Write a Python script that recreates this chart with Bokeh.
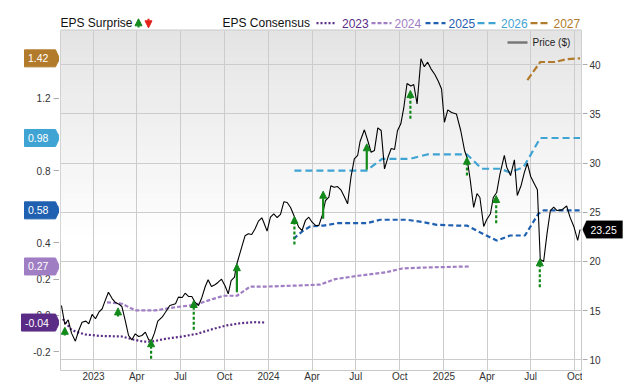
import numpy as np
import pandas as pd
from bokeh.plotting import figure
from bokeh.layouts import column, row
from bokeh.models import (Range1d, FixedTicker, ColumnDataSource, Arrow,
                          NormalHead, Label, PolyAnnotation, BoxAnnotation, NumeralTickFormatter)
from bokeh.embed import file_html
from bokeh.resources import INLINE

# ---------------- data ----------------
price_dates = [
    "2022-10-26", "2022-11-02", "2022-11-09", "2022-11-16", "2022-11-24", "2022-12-01", "2022-12-08",
    "2022-12-16", "2022-12-22", "2022-12-29", "2023-01-05", "2023-01-12", "2023-01-19", "2023-01-24",
    "2023-02-01", "2023-02-09", "2023-02-15", "2023-02-24", "2023-03-01", "2023-03-08", "2023-03-15",
    "2023-03-22", "2023-03-29", "2023-04-05", "2023-04-12", "2023-04-19", "2023-04-26", "2023-05-02",
    "2023-05-08", "2023-05-15", "2023-05-24", "2023-05-31", "2023-06-09", "2023-06-21", "2023-06-27",
    "2023-07-05", "2023-07-11", "2023-07-18", "2023-07-25", "2023-08-01", "2023-08-08", "2023-08-15",
    "2023-08-22", "2023-08-28", "2023-09-04", "2023-09-12", "2023-09-18", "2023-09-25", "2023-10-02",
    "2023-10-09", "2023-10-15", "2023-10-22", "2023-10-26", "2023-11-02", "2023-11-07", "2023-11-13",
    "2023-11-20", "2023-11-27", "2023-12-04", "2023-12-11", "2023-12-18", "2023-12-22", "2023-12-29",
    "2024-01-05", "2024-01-12", "2024-01-19", "2024-01-26", "2024-02-02", "2024-02-09", "2024-02-16",
    "2024-02-23", "2024-03-04", "2024-03-11", "2024-03-18", "2024-03-25", "2024-04-01", "2024-04-08",
    "2024-04-15", "2024-04-22", "2024-04-29", "2024-05-06", "2024-05-10", "2024-05-17", "2024-05-24",
    "2024-05-31", "2024-06-07", "2024-06-14", "2024-06-21", "2024-06-28", "2024-07-05", "2024-07-10",
    "2024-07-19", "2024-07-26", "2024-08-02", "2024-08-09", "2024-08-16", "2024-08-23", "2024-08-30",
    "2024-09-06", "2024-09-13", "2024-09-20", "2024-09-26", "2024-10-03", "2024-10-09", "2024-10-16",
    "2024-10-24", "2024-10-30", "2024-11-06", "2024-11-14", "2024-11-21", "2024-11-28", "2024-12-05",
    "2024-12-13", "2024-12-20", "2024-12-27", "2025-01-02", "2025-01-09", "2025-01-17", "2025-01-27",
    "2025-02-05", "2025-02-13", "2025-02-18", "2025-02-25", "2025-03-04", "2025-03-11", "2025-03-17",
    "2025-03-25", "2025-03-31", "2025-04-08", "2025-04-14", "2025-04-21", "2025-04-28", "2025-05-07",
    "2025-05-12", "2025-05-20", "2025-05-28", "2025-06-03", "2025-06-11", "2025-06-18", "2025-06-24",
    "2025-07-01", "2025-07-08", "2025-07-15", "2025-07-21", "2025-07-28", "2025-08-04", "2025-08-11",
    "2025-08-18", "2025-08-25", "2025-09-04", "2025-09-14", "2025-09-21", "2025-09-29", "2025-10-07",
    "2025-10-12",
]
price_values = [
    15.52, 13.59, 14.07, 12.71, 11.89, 12.98, 13.82,
    13.93, 13.66, 14.61, 14.17, 14.84, 15.19, 15.86,
    16.87, 16.20, 15.86, 15.62, 15.42, 14.00, 12.47,
    12.03, 12.64, 12.37, 12.47, 12.81, 12.03, 11.96,
    12.71, 13.93, 14.33, 14.84, 15.52, 15.70, 16.37,
    16.34, 16.77, 16.44, 16.44, 15.83, 15.52, 16.34,
    17.45, 18.14, 17.45, 17.66, 17.89, 18.20, 17.56,
    16.71, 18.06, 18.40, 19.59, 20.78, 21.62, 22.61,
    22.81, 22.74, 23.32, 24.10, 24.44, 23.99, 23.08,
    24.50, 24.85, 24.47, 24.78, 26.07, 26.00, 25.49,
    24.68, 23.49, 23.15, 24.17, 24.50, 23.99, 23.66,
    23.66, 24.68, 26.20, 26.54, 27.70, 27.55, 27.62,
    27.29, 26.61, 25.86, 28.57, 30.44, 30.78, 32.20,
    33.39, 32.30, 31.11, 31.29, 33.59, 33.32, 29.42,
    30.57, 31.49, 31.39, 33.29, 34.00, 35.56, 38.10,
    37.85, 38.00, 36.03, 40.61, 39.80, 40.27, 39.59,
    39.01, 38.35, 37.54, 34.16, 35.42, 35.15, 35.00,
    33.32, 31.29, 30.57, 28.23, 25.49, 26.91, 26.51,
    23.56, 24.24, 24.85, 26.51, 27.01, 28.92, 30.78,
    29.59, 28.74, 30.34, 26.71, 27.73, 29.08, 29.99,
    28.64, 27.96, 27.29, 20.20, 20.00, 22.81, 25.18,
    25.52, 25.18, 25.25, 25.64, 24.51, 23.56, 22.14,
    23.25,
]

cons_2023_dates = ["2022-10-29", "2022-11-14", "2022-11-24", "2022-12-15", "2023-01-15", "2023-03-01",
                   "2023-03-25", "2023-04-14", "2023-05-03", "2023-05-31", "2023-07-05", "2023-08-05",
                   "2023-09-08", "2023-10-06", "2023-11-03", "2023-12-01", "2023-12-25"]
cons_2023_values = [-0.02, -0.075, -0.09, -0.106, -0.114, -0.117, -0.134, -0.145, -0.145, -0.130,
                    -0.117, -0.102, -0.075, -0.056, -0.044, -0.038, -0.04]

cons_2024_dates = ["2023-01-29", "2023-03-01", "2023-03-29", "2023-05-09", "2023-06-21", "2023-08-01",
                   "2023-09-08", "2023-09-29", "2023-10-27", "2023-11-24", "2023-12-29", "2024-03-07",
                   "2024-04-18", "2024-05-19", "2024-07-10", "2024-09-01", "2024-10-06", "2024-12-03",
                   "2025-02-25"]
cons_2024_values = [0.072, 0.064, 0.027, 0.027, 0.045, 0.058, 0.091, 0.108, 0.108, 0.159, 0.159,
                    0.165, 0.170, 0.200, 0.220, 0.237, 0.259, 0.265, 0.27]

cons_2025_dates = ["2024-02-22", "2024-03-14", "2024-03-28", "2024-04-25", "2024-05-23", "2024-07-24",
                   "2024-08-21", "2024-10-16", "2024-11-19", "2024-12-17", "2025-01-28", "2025-02-18",
                   "2025-03-17", "2025-04-21", "2025-05-19", "2025-06-19", "2025-07-17", "2025-07-28",
                   "2025-10-12"]
cons_2025_values = [0.423, 0.469, 0.491, 0.496, 0.509, 0.509, 0.528, 0.528, 0.515, 0.500, 0.496,
                    0.496, 0.459, 0.413, 0.441, 0.441, 0.561, 0.58, 0.58]

cons_2026_dates = ["2024-02-24", "2024-07-24", "2024-08-25", "2024-10-23", "2024-11-27", "2025-02-18",
                   "2025-03-21", "2025-04-28", "2025-05-19", "2025-06-16", "2025-07-21", "2025-10-12"]
cons_2026_values = [0.80, 0.80, 0.865, 0.865, 0.889, 0.889, 0.81, 0.81, 0.79, 0.818, 0.98, 0.98]

cons_2027_dates = ["2025-06-24", "2025-07-21", "2025-08-21", "2025-09-13", "2025-10-12"]
cons_2027_values = [1.30, 1.40, 1.40, 1.415, 1.42]

surprise_dates = ["2022-11-02", "2023-02-21", "2023-05-01", "2023-07-29", "2023-10-27", "2024-02-24",
                  "2024-04-24", "2024-07-24", "2024-10-23", "2025-02-18", "2025-04-20", "2025-07-20"]
surprise_estimate = [-0.111, -0.007, -0.240, -0.080, 0.128, 0.391, 0.533, 0.804, 1.086, 0.773, 0.509, 0.155]
surprise_actual = [-0.066, 0.041, -0.135, 0.082, 0.285, 0.546, 0.686, 0.948, 1.242, 0.874, 0.662, 0.312]
surprise_solid = [False, False, False, False, True, False, True, True, False, False, False, False]

x_tick_dates = ["2023-01-01", "2023-04-01", "2023-07-01", "2023-10-01", "2024-01-01", "2024-04-01",
                "2024-07-01", "2024-10-01", "2025-01-01", "2025-04-01", "2025-07-01", "2025-10-01"]
x_tick_labels = ["2023", "Apr", "Jul", "Oct", "2024", "Apr", "Jul", "Oct", "2025", "Apr", "Jul", "Oct"]
price_ticks = [10, 15, 20, 25, 30, 35, 40]
eps_ticks = [-0.2, 0.0, 0.2, 0.4, 0.6, 0.8, 1.0, 1.2, 1.4]
years = ["2023", "2024", "2025", "2026", "2027"]

# ---------------- styling ----------------
FONT = "Liberation Sans"
C = {"2023": "#5b2c86", "2024": "#a07ec4", "2025": "#1f60b0", "2026": "#3fa4d3", "2027": "#b27b2c"}
DASH = {"2023": "2 2", "2024": "4 2", "2025": "5 3", "2026": "7 4", "2027": "7 3"}
GREEN = "#12891a"
RED = "#e52119"
BORDER = "#c8c8c8"
FW, FH = 521, 340
TOP_H, LEFT_W, RIGHT_W = 30, 59, 58
BOTTOM = 12
price_range = Range1d(8.91, 43.49)
eps_range = Range1d(-0.305, 1.574)
x_range = Range1d(pd.Timestamp("2022-10-24"), pd.Timestamp("2025-10-15"))


def bare(fig):
    fig.background_fill_color = "white"
    fig.border_fill_color = "white"
    fig.outline_line_color = None
    fig.grid.grid_line_color = None
    return fig


# ---------------- main plot ----------------
p = figure(frame_width=FW, frame_height=FH, x_axis_type="datetime", x_range=x_range,
           y_range=price_range, y_axis_location=None, output_backend="svg", toolbar_location=None,
           min_border_left=1, min_border_right=1, min_border_top=0, min_border_bottom=BOTTOM)
p.extra_y_ranges = {"eps": eps_range}
p.background_fill_color = "white"
p.border_fill_color = "white"
p.outline_line_color = BORDER

# gradient background
n = 30
g_lo, g_hi = 22.0, price_range.end
edges = np.linspace(g_lo, g_hi, n + 1)
for i in range(n):
    frac = (i + 0.5) / n
    shade = int(round(255 - 27 * frac))
    col = "#%02x%02x%02x" % (shade, shade, shade)
    p.add_layout(BoxAnnotation(bottom=edges[i], top=edges[i + 1] + 0.05, fill_color=col, fill_alpha=1,
                               line_alpha=0, level="image"))

tick_ms = [pd.Timestamp(d).value / 1e6 for d in x_tick_dates]
xa = p.xaxis[0]
xa.ticker = FixedTicker(ticks=tick_ms)
xa.major_label_overrides = {t: lab for t, lab in zip(tick_ms, x_tick_labels)}
xa.major_tick_out = 0
xa.major_tick_in = 0
xa.minor_tick_line_color = None
xa.axis_line_color = None
xa.major_label_standoff = 0
xa.major_label_text_font = FONT
xa.major_label_text_font_size = "10px"
xa.major_label_text_color = "#333333"

p.xgrid.ticker = FixedTicker(ticks=tick_ms)
p.ygrid.ticker = FixedTicker(ticks=price_ticks)
p.grid.grid_line_color = "#cccccc"
p.grid.grid_line_width = 1

cons = {
    "2023": (cons_2023_dates, cons_2023_values),
    "2024": (cons_2024_dates, cons_2024_values),
    "2025": (cons_2025_dates, cons_2025_values),
    "2026": (cons_2026_dates, cons_2026_values),
    "2027": (cons_2027_dates, cons_2027_values),
}
for yr, (d, v) in cons.items():
    p.line(pd.to_datetime(d), v, y_range_name="eps", line_color=C[yr], line_width=2.2,
           line_dash=DASH[yr])

p.line(pd.to_datetime(price_dates), price_values, line_color="black", line_width=1.1)

sd = pd.to_datetime(surprise_dates)
for solid in (True, False):
    idx = [i for i, s in enumerate(surprise_solid) if s == solid]
    src = ColumnDataSource(dict(x=sd[idx], y0=[surprise_estimate[i] for i in idx],
                                y1=[surprise_actual[i] for i in idx]))
    p.add_layout(Arrow(x_start="x", y_start="y0", x_end="x", y_end="y1", source=src,
                       y_range_name="eps", line_color=GREEN, line_width=2.2,
                       line_dash="solid" if solid else "3 2",
                       end=NormalHead(size=7, fill_color=GREEN, line_color=GREEN, line_width=1)))

# price legend inside the plot (top right)
ly = FH - 12
p.add_layout(Arrow(x_start=FW - 74, y_start=ly, x_end=FW - 54, y_end=ly, start_units="screen",
                   end_units="screen", start=None, end=None, line_color="#777777", line_width=2.5))
p.add_layout(Label(x=FW - 49, y=ly, x_units="screen", y_units="screen", text="Price ($)",
                   text_baseline="middle", text_font=FONT, text_font_size="10px",
                   text_color="#222222"))

# ---------------- left strip: EPS axis + consensus flags ----------------
lf = bare(figure(frame_width=LEFT_W, frame_height=FH, x_range=Range1d(0, LEFT_W), y_range=eps_range,
                 x_axis_location=None, y_axis_location="left", output_backend="svg",
                 toolbar_location=None, min_border_left=0, min_border_right=0, min_border_top=0,
                 min_border_bottom=BOTTOM))
la = lf.yaxis[0]
la.fixed_location = LEFT_W
la.ticker = FixedTicker(ticks=eps_ticks)
la.formatter = NumeralTickFormatter(format="0.0")

# ---------------- right strip: price axis + last price tag ----------------
rf = bare(figure(frame_width=RIGHT_W, frame_height=FH, x_range=Range1d(0, RIGHT_W), y_range=price_range,
                 x_axis_location=None, y_axis_location="right", output_backend="svg",
                 toolbar_location=None, min_border_left=0, min_border_right=0, min_border_top=0,
                 min_border_bottom=BOTTOM))
ra = rf.yaxis[0]
ra.fixed_location = 0
ra.ticker = FixedTicker(ticks=price_ticks)

for ax, so, tout in ((la, 3, 6), (ra, 2, 5)):
    ax.axis_line_color = None
    ax.major_tick_in = 0
    ax.major_tick_out = tout
    ax.major_tick_line_color = "#aaaaaa"
    ax.minor_tick_line_color = None
    ax.major_label_standoff = so
    ax.major_label_text_font = FONT
    ax.major_label_text_font_size = "10px"
    ax.major_label_text_color = "#333333"

eps_per_px = (eps_range.end - eps_range.start) / FH
hh = 8.5 * eps_per_px
for yr in years:
    v = cons[yr][1][-1]
    x0 = 21 if v < 0 else 24
    lf.add_layout(PolyAnnotation(xs=[x0, LEFT_W - 4, LEFT_W, LEFT_W - 4, x0],
                                 ys=[v + hh, v + hh, v, v - hh, v - hh],
                                 fill_color=C[yr], fill_alpha=1, line_color=C[yr], line_alpha=1))
    lf.add_layout(Label(x=x0 + 3.5, y=v, text="%.2f" % v, text_align="left", text_baseline="middle",
                        text_color="white", text_font=FONT, text_font_size="10.5px"))

pv = price_values[-1]
ph = 8.8 * (price_range.end - price_range.start) / FH
rf.add_layout(PolyAnnotation(xs=[0, 4, 40, 40, 4], ys=[pv, pv + ph, pv + ph, pv - ph, pv - ph],
                             fill_color="black", fill_alpha=1, line_color="black"))
rf.add_layout(Label(x=8, y=pv, text="%.2f" % pv, text_align="left", text_baseline="middle",
                    text_color="white", text_font=FONT, text_font_size="10.5px"))

# ---------------- top strip: legend ----------------
W_ALL = LEFT_W + FW + 2 + RIGHT_W
tf = bare(figure(frame_width=W_ALL, frame_height=TOP_H, x_range=Range1d(0, W_ALL),
                 y_range=Range1d(TOP_H, 0), x_axis_location=None, y_axis_location=None,
                 output_backend="svg", toolbar_location=None, min_border=0))
# top edge of the plot frame
tf.add_layout(Arrow(x_start=LEFT_W + 1, y_start=TOP_H - 0.5, x_end=LEFT_W + 1 + FW, y_end=TOP_H - 0.5,
                    start=None, end=None, line_color=BORDER, line_width=1))
mid = 22.7
tf.add_layout(Label(x=60, y=mid, text="EPS Surprise", text_baseline="middle", text_font=FONT,
                    text_font_size="12px", text_color="#111111"))
tf.add_layout(Arrow(x_start=138, y_start=27, x_end=138, y_end=18.3, line_color=GREEN, line_width=2,
                    end=NormalHead(size=7, fill_color=GREEN, line_color=GREEN, line_width=1)))
tf.add_layout(Arrow(x_start=148, y_start=18.3, x_end=148, y_end=27.3, line_color=RED, line_width=2,
                    end=NormalHead(size=7, fill_color=RED, line_color=RED, line_width=1)))
tf.add_layout(Label(x=222, y=mid, text="EPS Consensus", text_baseline="middle", text_font=FONT,
                    text_font_size="12px", text_color="#111111"))
sample_x = {"2023": 316, "2024": 371, "2025": 425, "2026": 477, "2027": 530}
text_x = {"2023": 341.5, "2024": 394, "2025": 448, "2026": 500.5, "2027": 553}
for yr in years:
    x0 = sample_x[yr]
    tf.add_layout(Arrow(x_start=x0, y_start=mid, x_end=x0 + 20, y_end=mid, start=None, end=None,
                        line_color=C[yr], line_width=2.2, line_dash=DASH[yr]))
    tf.add_layout(Label(x=text_x[yr], y=mid, text=yr, text_baseline="middle", text_font=FONT,
                        text_font_size="12px", text_color=C[yr]))

layout = column(tf, row(lf, p, rf, spacing=0), spacing=0)
open("out.html", "w").write(file_html(layout, INLINE))
